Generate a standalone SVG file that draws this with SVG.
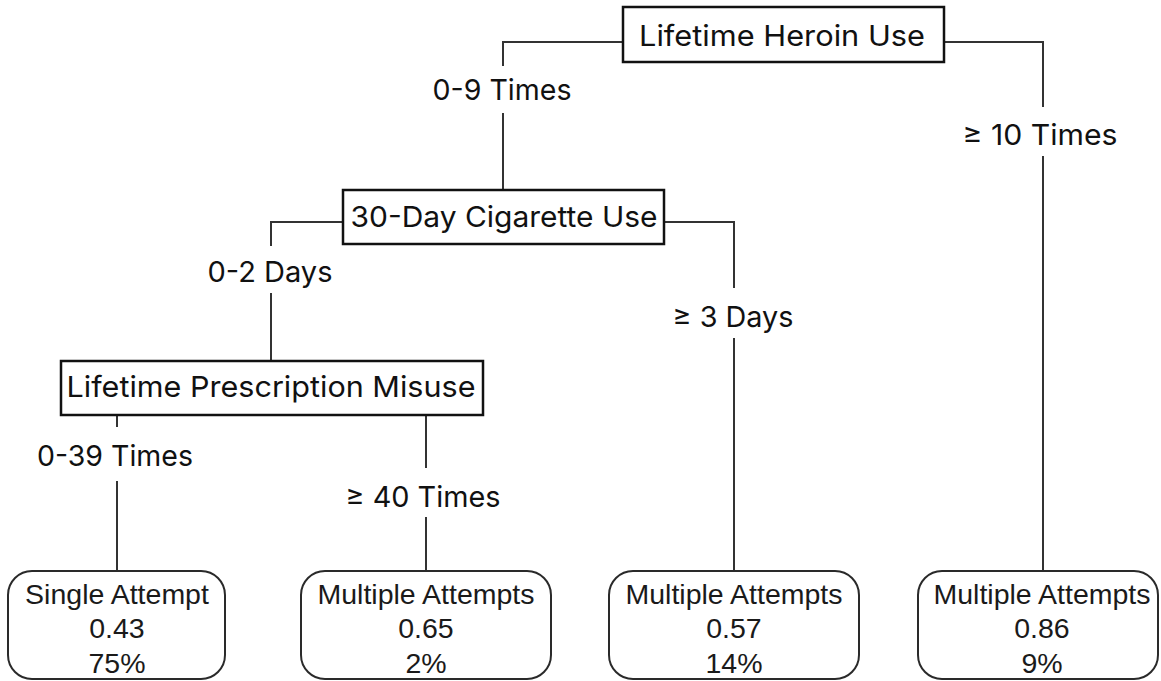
<svg xmlns="http://www.w3.org/2000/svg" width="1161" height="681" viewBox="0 0 1161 681">
  <style>
    .split { fill: #ffffff; stroke: #111111; stroke-width: 2.5; }
    .leaf { fill: #ffffff; stroke: #2a2a2a; stroke-width: 2; }
    .split-text { font-family: Inter, "Liberation Sans", sans-serif; font-size: 29px; fill: #111111; text-anchor: middle; }
    .edge-text { font-family: Inter, "Liberation Sans", sans-serif; font-size: 29px; fill: #111111; text-anchor: middle; }
    .leaf-text { font-family: "Liberation Sans", Arial, sans-serif; font-size: 28.5px; fill: #1a1a1a; text-anchor: middle; }
    .wire { fill: none; stroke: #333333; stroke-width: 2; }
  </style>
  <rect width="1161" height="681" fill="#ffffff"/>

  <!-- connectors, broken where the branch labels sit -->
  <g id="connectors">
    <path class="wire" d="M623,42 H503 V66 M503,113 V190"/>
    <path class="wire" d="M944,42 H1043 V107 M1043,156 V571"/>
    <path class="wire" d="M343,222 H271 V246 M271,293 V361"/>
    <path class="wire" d="M664,222 H734 V288 M734,338 V571"/>
    <path class="wire" d="M117,415 V427 M117,481 V571"/>
    <path class="wire" d="M426,415 V468 M426,517 V571"/>
    <text class="edge-text" x="502" y="100" textLength="139" lengthAdjust="spacingAndGlyphs">0-9 Times</text>
    <text class="edge-text" x="1040" y="145" textLength="155" lengthAdjust="spacingAndGlyphs">≥ 10 Times</text>
    <text class="edge-text" x="270" y="282" textLength="125" lengthAdjust="spacingAndGlyphs">0-2 Days</text>
    <text class="edge-text" x="733" y="327" textLength="121" lengthAdjust="spacingAndGlyphs">≥ 3 Days</text>
    <text class="edge-text" x="115" y="466" textLength="156" lengthAdjust="spacingAndGlyphs">0-39 Times</text>
    <text class="edge-text" x="423" y="507" textLength="155" lengthAdjust="spacingAndGlyphs">≥ 40 Times</text>
  </g>

  <!-- split nodes -->
  <g id="node-heroin">
    <rect class="split" x="623" y="7" width="321" height="55"/>
    <text class="split-text" x="782" y="46" textLength="286" lengthAdjust="spacingAndGlyphs">Lifetime Heroin Use</text>
  </g>
  <g id="node-cigarette">
    <rect class="split" x="343" y="190" width="321" height="54"/>
    <text class="split-text" x="504" y="227" textLength="307" lengthAdjust="spacingAndGlyphs">30-Day Cigarette Use</text>
  </g>
  <g id="node-prescription">
    <rect class="split" x="61" y="361" width="422" height="54"/>
    <text class="split-text" x="271" y="397" textLength="409" lengthAdjust="spacingAndGlyphs">Lifetime Prescription Misuse</text>
  </g>

  <!-- terminal nodes -->
  <g id="leaf-single">
    <rect class="leaf" x="8" y="571" width="217" height="108" rx="24" ry="24"/>
    <text class="leaf-text" x="117" y="604">Single Attempt</text>
    <text class="leaf-text" x="117" y="638">0.43</text>
    <text class="leaf-text" x="117" y="673">75%</text>
  </g>
  <g id="leaf-multiple-rx">
    <rect class="leaf" x="301" y="571" width="250" height="108" rx="24" ry="24"/>
    <text class="leaf-text" x="426" y="604">Multiple Attempts</text>
    <text class="leaf-text" x="426" y="638">0.65</text>
    <text class="leaf-text" x="426" y="673">2%</text>
  </g>
  <g id="leaf-multiple-cig">
    <rect class="leaf" x="609" y="571" width="250" height="108" rx="24" ry="24"/>
    <text class="leaf-text" x="734" y="604">Multiple Attempts</text>
    <text class="leaf-text" x="734" y="638">0.57</text>
    <text class="leaf-text" x="734" y="673">14%</text>
  </g>
  <g id="leaf-multiple-heroin">
    <rect class="leaf" x="918" y="571" width="240" height="108" rx="24" ry="24"/>
    <text class="leaf-text" x="1042" y="604">Multiple Attempts</text>
    <text class="leaf-text" x="1042" y="638">0.86</text>
    <text class="leaf-text" x="1042" y="673">9%</text>
  </g>
</svg>
